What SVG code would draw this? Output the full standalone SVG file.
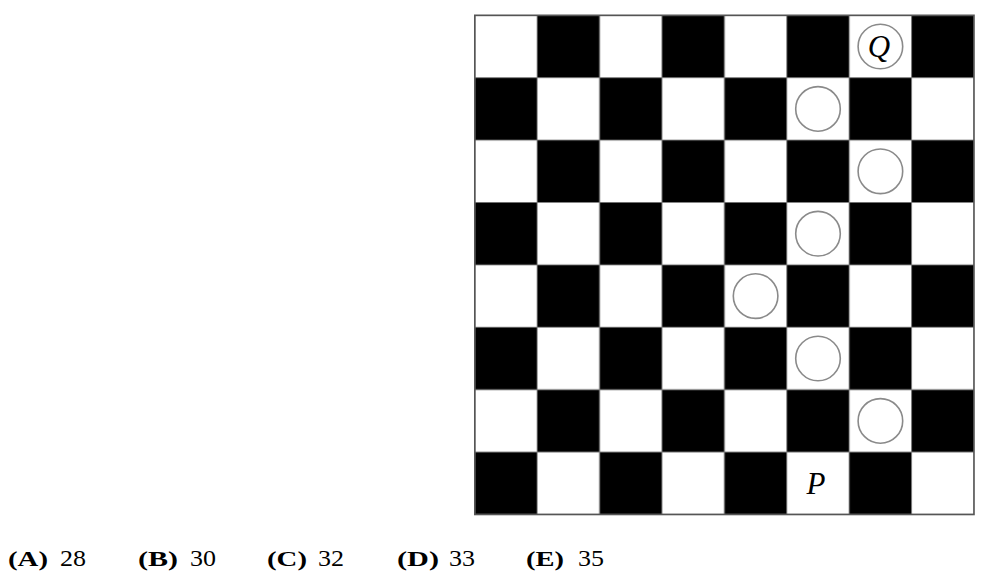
<svg xmlns="http://www.w3.org/2000/svg" width="999" height="583" viewBox="0 0 999 583">
<style>
.w{fill:#fff;stroke:#777;stroke-width:0.8}
.b{fill:#000;stroke:#777;stroke-width:0.8}
.c{fill:#fff;stroke:#8a8a8a;stroke-width:1.6}
.it{font-family:"Liberation Serif","DejaVu Serif",serif;font-style:italic;font-size:31px;fill:#000}
.lb{font-family:"Liberation Serif","DejaVu Serif",serif;font-weight:bold;font-size:22px;fill:#000}
.num{font-family:"Liberation Serif","DejaVu Serif",serif;font-size:24px;fill:#000}
</style>
<rect width="999" height="583" fill="#fff"/>
<defs>
<pattern id="chk" x="474.8" y="15.3" width="124.8" height="124.8" patternUnits="userSpaceOnUse">
<rect x="0" y="0" width="62.4" height="62.4" class="w"/>
<rect x="62.4" y="0" width="62.4" height="62.4" class="b"/>
<rect x="0" y="62.4" width="62.4" height="62.4" class="b"/>
<rect x="62.4" y="62.4" width="62.4" height="62.4" class="w"/>
</pattern>
</defs>
<g id="board">
<rect x="474.8" y="15.3" width="499.2" height="499.2" fill="url(#chk)"/>
<rect x="474.8" y="15.3" width="499.2" height="499.2" fill="none" stroke="#555" stroke-width="1.6"/>
</g>
<g id="pieces">
<circle class="c" cx="880.4" cy="46.5" r="22.3"/>
<circle class="c" cx="818" cy="108.9" r="22.3"/>
<circle class="c" cx="880.4" cy="171.3" r="22.3"/>
<circle class="c" cx="818" cy="233.7" r="22.3"/>
<circle class="c" cx="755.6" cy="296.1" r="22.3"/>
<circle class="c" cx="818" cy="358.5" r="22.3"/>
<circle class="c" cx="880.4" cy="420.9" r="22.3"/>
<text class="it" x="879" y="56.5" text-anchor="middle">Q</text>
<text class="it" x="816" y="494.3" text-anchor="middle">P</text>
</g>
<g id="answers">
<text class="lb" x="8" y="566" textLength="40" lengthAdjust="spacingAndGlyphs">(A)</text>
<text class="num" x="60" y="566" textLength="26" lengthAdjust="spacingAndGlyphs">28</text>
<text class="lb" x="138" y="566" textLength="40" lengthAdjust="spacingAndGlyphs">(B)</text>
<text class="num" x="190" y="566" textLength="26" lengthAdjust="spacingAndGlyphs">30</text>
<text class="lb" x="267" y="566" textLength="40" lengthAdjust="spacingAndGlyphs">(C)</text>
<text class="num" x="318" y="566" textLength="26" lengthAdjust="spacingAndGlyphs">32</text>
<text class="lb" x="397" y="566" textLength="42" lengthAdjust="spacingAndGlyphs">(D)</text>
<text class="num" x="449" y="566" textLength="26" lengthAdjust="spacingAndGlyphs">33</text>
<text class="lb" x="526" y="566" textLength="38" lengthAdjust="spacingAndGlyphs">(E)</text>
<text class="num" x="578" y="566" textLength="26" lengthAdjust="spacingAndGlyphs">35</text>
</g>
</svg>
